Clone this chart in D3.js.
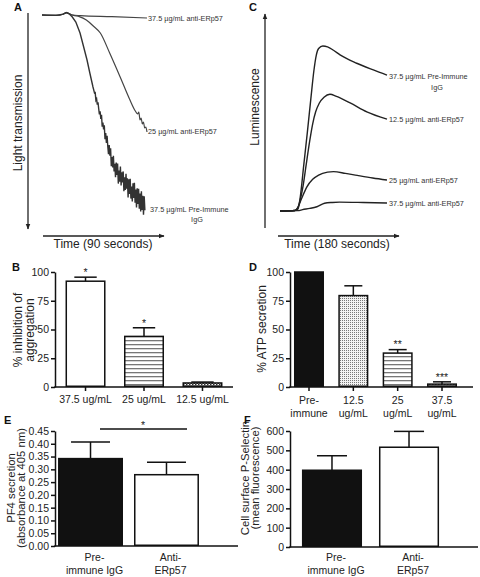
<!DOCTYPE html>
<html><head><meta charset="utf-8">
<script src="https://cdn.jsdelivr.net/npm/d3@7"></script>
<style>body{margin:0;background:#fff}svg{display:block;font-family:"Liberation Sans",Arial,Helvetica,sans-serif}</style>
</head><body><svg id="c" width="480" height="577"></svg>
<script>
// ---------- DATA ----------
// Panel A: light transmission traces (time s, aggregation units)
const aAnti375 = [[0,0],[12,0.2],[18,-0.4],[21,-1.2],[23.5,-0.6],[26,0],[33,0.3],[60,0.8],[90,1.5]];
const aAnti25 = [[0,0],[12,0.2],[18,-0.4],[21,-1.2],[23.5,-0.6],[27,0.2],[32,0.8],[38,2.5],[44,5.5],[50,9],[58,19],[67,31],[75,42],[80,48],[82,49.5],[83,48.5],[84,52.5],[85,51.5],[86,54.5],[87,53.5],[88,56.5],[89,56],[90,58.5]];
const aPreImm = [[0,0],[12,0.2],[18,-0.4],[21,-1.2],[23.5,-0.5],[26,1],[29,3.5],[32.6,9],[35.5,15.5],[38.6,22.5],[41,29],[43.7,36],
 [45,39],[45.6,38.8],[46.2,42.6],[46.8,41.9],[47.4,44.8],[48,43.6],[48.6,46.9],[49.2,49.7],[49.8,48.1],[50.4,52],[51,49.9],[51.6,55.8],
 [52.2,53.8],[52.8,57.2],[53.4,55.2],[54,62.1],[54.6,59],[55.2,64],[55.8,60.4],[56.4,65.8],[57,69.6],[57.6,65],[58.2,70.4],[58.8,66.7],
 [59.4,75.6],[60,71],[60.6,76.2],[61.2,70.4],[61.8,78.2],[62.4,74.4],[63,81.1],[63.6,73.8],[64.2,80],[64.8,74.3],[65.4,84.3],[66,77.8],
 [66.6,83.3],[67.2,75.8],[67.8,85.2],[68.4,78.7],[69,83.7],[69.6,78.2],[70.2,88.1],[70.8,81.1],[71.4,87.5],[72,79.4],[72.6,86.8],[73.2,81.7],
 [73.8,91.2],[74.4,82.1],[75,89.5],[75.6,81.9],[76.2,91.8],[76.8,85.8],[77.4,93.2],[78,84.1],[78.6,91.5],[79.2,83.9],[79.8,93.9],[80.4,87.3],
 [81,96.2],[81.6,86.6],[82.2,94.5],[82.8,86.9],[83.4,96.9],[84,89.3],[84.6,98.2],[85.2,88.1],[85.8,97.5],[86.4,90.4],[87,99.8],[87.6,90.7],[88.2,97.6]];
const aLabels = ["37.5 \u00b5g/mL anti-ERp57","25 \u00b5g/mL anti-ERp57","37.5 \u00b5g/mL Pre-Immune","IgG"];

// Panel C: luminescence traces (time s, luminescence units)
const cPreImm = [[0,0],[25,0.3],[30,1],[34,8],[40,27],[46,46],[52,66],[57,82],[61,91],[65,95],[72,96.5],[80,96],[90,94],[101,91.3],[129,86.4],[157,82.5],[180,79.5]];
const cAnti125 = [[0,0],[25,0.3],[30,2],[35,8],[39,15],[44,27],[50,41],[55,51],[60,58],[66,63],[74,66.5],[84,68.3],[95,67],[118,63.2],[146,58],[180,53.7]];
const cAnti25 = [[0,0],[25,0.3],[30,2],[36,7],[45,14],[55,18.5],[65,21],[80,22.7],[90,23],[110,22],[130,20.8],[156,19.3],[180,18.1]];
const cAnti375 = [[0,0],[30,0.2],[38,0.8],[50,1.5],[62,2.5],[75,4.5],[88,5],[100,5.2],[140,5],[180,4.7]];
const cLabels = ["37.5 \u00b5g/mL Pre-Immune","IgG","12.5 \u00b5g/mL anti-ERp57","25 \u00b5g/mL anti-ERp57","37.5 \u00b5g/mL anti-ERp57"];

// Panel B
const bCats = ["37.5 ug/mL","25 ug/mL","12.5 ug/mL"];
const bVals = [92, 44, 3.5];
const bSem = [3.5, 7.5, 0.8];
const bStars = ["*","*",""];
const bTicks = [0,25,50,75,100];

// Panel D
const dCats = [["Pre-","immune"],["12.5","ug/mL"],["25","ug/mL"],["37.5","ug/mL"]];
const dVals = [100, 79.5, 29.5, 2.5];
const dSem = [0, 8.5, 3, 2];
const dStars = ["","","**","***"];
const dTicks = [0,25,50,75,100];

// Panel E
const eCats = [["Pre-","immune IgG"],["Anti-","ERp57"]];
const eVals = [0.342, 0.279];
const eSem = [0.065, 0.049];
const eTicks = [0,0.05,0.10,0.15,0.20,0.25,0.30,0.35,0.40,0.45];

// Panel F
const fCats = [["Pre-","immune IgG"],["Anti-","ERp57"]];
const fVals = [397, 516];
const fSem = [75, 82];
const fTicks = [0,100,200,300,400,500,600];

// ---------- DRAW ----------
const svg = d3.select("#c");
const defs = svg.append("defs");
const mk = defs.append("marker").attr("id","arr").attr("viewBox","0 0 10 10").attr("refX",9).attr("refY",5)
  .attr("markerWidth",6).attr("markerHeight",6).attr("orient","auto-start-reverse").attr("markerUnits","userSpaceOnUse");
mk.append("path").attr("d","M0,1 L10,5 L0,9 Z").attr("fill","#222");

let p = defs.append("pattern").attr("id","hl").attr("patternUnits","userSpaceOnUse").attr("width",4).attr("height",4);
p.append("rect").attr("width",4).attr("height",4).attr("fill","#fff");
p.append("rect").attr("width",4).attr("height",1.3).attr("fill","#777");
p = defs.append("pattern").attr("id","dots").attr("patternUnits","userSpaceOnUse").attr("width",2).attr("height",2);
p.append("rect").attr("width",2).attr("height",2).attr("fill","#f2f2f2");
p.append("rect").attr("width",1).attr("height",1).attr("fill","#777");
p = defs.append("pattern").attr("id","chk").attr("patternUnits","userSpaceOnUse").attr("width",3).attr("height",3);
p.append("rect").attr("width",3).attr("height",3).attr("fill","#fff");
p.append("rect").attr("width",1.5).attr("height",1.5).attr("fill","#333");
p.append("rect").attr("x",1.5).attr("y",1.5).attr("width",1.5).attr("height",1.5).attr("fill","#333");

function letter(t,x,y){ svg.append("text").attr("x",x).attr("y",y).attr("font-size",11).attr("font-weight","bold").attr("fill","#111").text(t); }
function vtitle(lines,x0,cy,fs,gap){
  lines.forEach((l,i)=>{
    svg.append("text").attr("transform",`translate(${x0+i*gap},${cy}) rotate(-90)`).attr("text-anchor","middle")
      .attr("font-size",fs).attr("fill","#222").text(l);
  });
}

// ----- Panel A -----
{
  const x = d3.scaleLinear([0,90],[42,147]);
  const y = d3.scaleLinear([0,100],[15,215]);
  const g = svg.append("g");
  g.append("line").attr("x1",28).attr("y1",13).attr("x2",28).attr("y2",229).attr("stroke","#222").attr("stroke-width",1.3).attr("marker-end","url(#arr)");
  g.append("line").attr("x1",43).attr("y1",236).attr("x2",164).attr("y2",236).attr("stroke","#222").attr("stroke-width",1.3).attr("marker-end","url(#arr)");
  const ln = d3.line().x(d=>x(d[0])).y(d=>y(d[1]));
  g.append("path").attr("d",ln.curve(d3.curveMonotoneX)(aAnti375)).attr("fill","none").attr("stroke","#444").attr("stroke-width",1.2);
  g.append("path").attr("d",ln.curve(d3.curveMonotoneX)(aAnti25)).attr("fill","none").attr("stroke","#444").attr("stroke-width",1.2);
  g.append("path").attr("d",ln.curve(d3.curveLinear)(aPreImm)).attr("fill","none").attr("stroke","#333").attr("stroke-width",1.4);
  const lab = (t,xx,yy,anchor)=>g.append("text").attr("x",xx).attr("y",yy).attr("font-size",7.3).attr("fill","#333").attr("text-anchor",anchor||"start").text(t);
  const e1=aAnti375[aAnti375.length-1], e2=aAnti25[aAnti25.length-1];
  lab(aLabels[0], x(e1[0])+1, y(e1[1])+3);
  lab(aLabels[1], x(e2[0])+1, y(e2[1])+2);
  lab(aLabels[2], 150, 212);
  lab(aLabels[3], 197, 222, "middle");
  g.append("text").attr("x",103).attr("y",248).attr("text-anchor","middle").attr("font-size",12).attr("fill","#222").text("Time (90 seconds)");
  vtitle(["Light transmission"],22,123,12,0);
  letter("A",14,11);
}
// ----- Panel C -----
{
  const x = d3.scaleLinear([0,180],[280,387]);
  const y = d3.scaleLinear([0,100],[211,40]);
  const g = svg.append("g");
  g.append("line").attr("x1",265).attr("y1",228).attr("x2",265).attr("y2",14).attr("stroke","#222").attr("stroke-width",1.3).attr("marker-end","url(#arr)");
  g.append("line").attr("x1",278).attr("y1",236).attr("x2",399).attr("y2",236).attr("stroke","#222").attr("stroke-width",1.3).attr("marker-end","url(#arr)");
  const ln = d3.line().x(d=>x(d[0])).y(d=>y(d[1])).curve(d3.curveMonotoneX);
  [cAnti375,cAnti25,cAnti125,cPreImm].forEach(s=>g.append("path").attr("d",ln(s)).attr("fill","none").attr("stroke","#222").attr("stroke-width",1.4));
  const lab = (t,xx,yy,anchor)=>g.append("text").attr("x",xx).attr("y",yy).attr("font-size",7.3).attr("fill","#333").attr("text-anchor",anchor||"start").text(t);
  const L=s=>s[s.length-1];
  lab(cLabels[0], x(L(cPreImm)[0])+2, y(L(cPreImm)[1])+4);
  lab(cLabels[1], 437, y(L(cPreImm)[1])+15, "middle");
  lab(cLabels[2], x(L(cAnti125)[0])+2, y(L(cAnti125)[1])+3);
  lab(cLabels[3], x(L(cAnti25)[0])+2, y(L(cAnti25)[1])+3);
  lab(cLabels[4], x(L(cAnti375)[0])+2, y(L(cAnti375)[1])+3);
  g.append("text").attr("x",337).attr("y",248).attr("text-anchor","middle").attr("font-size",12).attr("fill","#222").text("Time (180 seconds)");
  vtitle(["Luminescence"],259,107,12,0);
  letter("C",249,11);
}

function barPanel(o){
  const g = svg.append("g");
  const x = d3.scaleBand(o.cats.map((c,i)=>i), o.xr).paddingInner(o.pi).paddingOuter(o.po);
  const y = d3.scaleLinear(o.dom, o.yr);
  const bw = x.bandwidth();
  o.vals.forEach((v,i)=>{
    if(o.sem[i]>0){
      const cx = x(i)+bw/2;
      g.append("line").attr("x1",cx).attr("x2",cx).attr("y1",y(v)).attr("y2",y(v+o.sem[i])).attr("stroke","#111").attr("stroke-width",1.5);
      g.append("line").attr("x1",cx-bw*o.cap).attr("x2",cx+bw*o.cap).attr("y1",y(v+o.sem[i])).attr("y2",y(v+o.sem[i])).attr("stroke","#111").attr("stroke-width",1.5);
    }
  });
  g.selectAll("rect.bar").data(o.vals).join("rect").attr("class","bar")
    .attr("x",(d,i)=>x(i)+0.75).attr("width",bw-1.5)
    .attr("y",d=>y(d)).attr("height",d=>y(o.dom[0])-y(d)-0.75)
    .attr("fill",(d,i)=>o.fills[i]).attr("stroke","#111").attr("stroke-width",1.5);
  const ya = d3.axisLeft(y).tickValues(o.ticks).tickSize(4).tickSizeOuter(0).tickPadding(2).tickFormat(o.fmt);
  const ag = g.append("g").attr("transform",`translate(${o.xr[0]},0)`).call(ya);
  ag.select(".domain").attr("stroke","#111").attr("stroke-width",1.5);
  ag.selectAll(".tick line").attr("stroke","#111").attr("stroke-width",1.5);
  ag.selectAll(".tick text").attr("font-size",o.fs).attr("fill","#222").attr("font-family","Liberation Sans, Arial, sans-serif");
  g.append("line").attr("x1",o.xr[0]-0.75).attr("x2",o.xend).attr("y1",y(o.dom[0])).attr("y2",y(o.dom[0])).attr("stroke","#111").attr("stroke-width",1.5);
  o.cats.forEach((c,i)=>{
    const cx = x(i)+bw/2;
    if(o.xticks) g.append("line").attr("x1",cx).attr("x2",cx).attr("y1",y(o.dom[0])).attr("y2",y(o.dom[0])+4).attr("stroke","#111").attr("stroke-width",1.5);
    const lines = Array.isArray(c)?c:[c];
    lines.forEach((l,j)=>g.append("text").attr("x",cx+(o.lx||0)).attr("y",o.ly+j*o.lh).attr("text-anchor","middle").attr("font-size",o.fs).attr("fill","#222").text(l));
    if(o.stars && o.stars[i]) g.append("text").attr("x",cx).attr("y",y(o.vals[i]+o.sem[i])-6+o.fs*0.45).attr("text-anchor","middle").attr("font-size",o.fs).attr("fill","#222").text(o.stars[i]);
  });
  return {g,x,y,bw};
}

// ----- Panel B -----
barPanel({cats:bCats, vals:bVals, sem:bSem, stars:bStars, ticks:bTicks, dom:[0,100], yr:[387,272], xr:[55,233], xend:233,
  pi:0.316, po:0.18, cap:0.28, fills:["#fff","url(#hl)","url(#chk)"], fmt:d3.format("d"), fs:10.5, xticks:true, ly:403, lh:13});
vtitle(["% inhibition of","aggregation"],22,330,12,12);
letter("B",12,271);

// ----- Panel D -----
barPanel({cats:dCats, vals:dVals, sem:dSem, stars:dStars, ticks:dTicks, dom:[0,100], yr:[387,272], xr:[290,461], xend:473,
  pi:0.323, po:0.09, cap:0.3, fills:["#111","url(#dots)","url(#hl)","url(#chk)"], fmt:d3.format("d"), fs:10.5, xticks:true, ly:404, lh:13});
vtitle(["% ATP secretion"],266,329,12,0);
letter("D",249,271);

// ----- Panel E -----
{
  const r = barPanel({cats:eCats, vals:eVals, sem:eSem, ticks:eTicks, dom:[0,0.45], yr:[546,431], xr:[55,202], xend:238,
    pi:0.145, po:0.04, cap:0.3, fills:["#111","#fff"], fmt:d3.format(".2f"), fs:10.5, xticks:false, ly:561, lh:13, lx:4});
  r.g.append("line").attr("x1",100).attr("x2",187).attr("y1",429).attr("y2",429).attr("stroke","#111").attr("stroke-width",1.5);
  r.g.append("text").attr("x",143).attr("y",429).attr("text-anchor","middle").attr("font-size",10.5).attr("fill","#222").text("*");
}
vtitle(["PF4 secretion","(absorbance at 405 nm)"],15,488,11.3,10);
letter("E",4,424);

// ----- Panel F -----
barPanel({cats:fCats, vals:fVals, sem:fSem, ticks:fTicks, dom:[0,600], yr:[547,431], xr:[290,451], xend:478,
  pi:0.22, po:0.155, cap:0.25, fills:["#111","#fff"], fmt:d3.format("d"), fs:10.5, xticks:false, ly:561, lh:13, lx:4});
vtitle(["Cell surface P-Selectin","(mean fluorescence)"],249,478,11.3,10);
letter("F",244,424);
</script></body></html>
